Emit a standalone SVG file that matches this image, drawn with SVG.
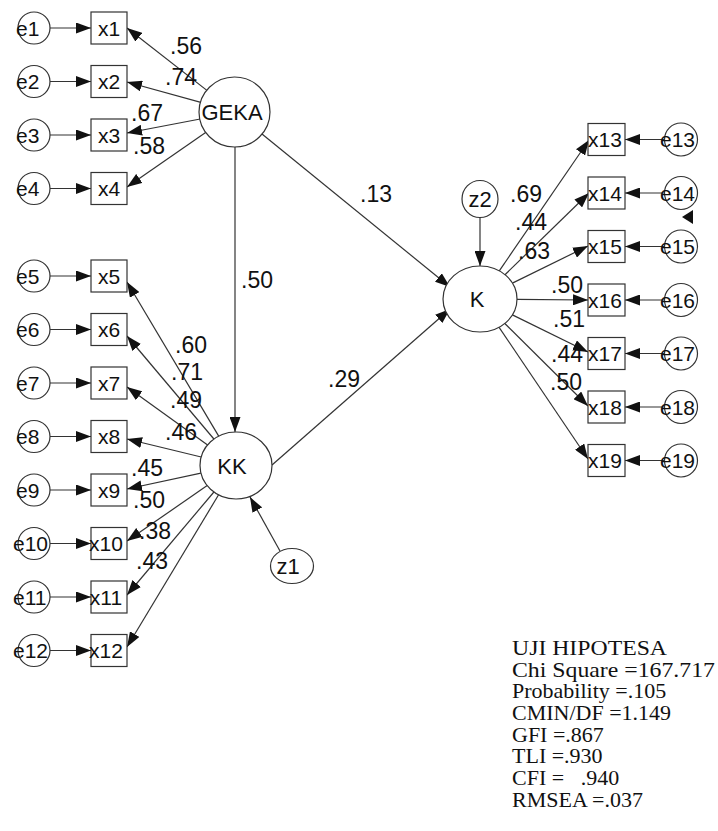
<svg xmlns="http://www.w3.org/2000/svg" width="718" height="831" viewBox="0 0 718 831">
<style>
  .sh { fill: #fff; stroke: #333; stroke-width: 1.2; }
  .ln { fill: none; stroke: #333; stroke-width: 1.2; marker-end: url(#ah); }
  .lab { font-family: "Liberation Sans", Arial, sans-serif; font-size: 21px; fill: #111; }
  .lat { font-family: "Liberation Sans", Arial, sans-serif; font-size: 22px; fill: #111; text-anchor: middle; }
  .bx { text-anchor: middle; }
  .co { font-family: "Liberation Sans", Arial, sans-serif; font-size: 23px; fill: #111; }
  .st { font-family: "Liberation Serif", "Times New Roman", serif; font-size: 22px; fill: #111; white-space: pre; }
</style>
<defs>
  <marker id="ah" markerUnits="userSpaceOnUse" markerWidth="15" markerHeight="11" refX="15" refY="5.5" orient="auto">
    <path d="M0,0 L15,5.5 L0,11 z" fill="#111"/>
  </marker>
</defs>
<rect width="718" height="831" fill="#fff"/>

<g id="connectors">
  <line class="ln" x1="50" y1="28" x2="91" y2="28"/>
  <line class="ln" x1="50" y1="81.5" x2="91" y2="81.5"/>
  <line class="ln" x1="50" y1="135" x2="91" y2="135"/>
  <line class="ln" x1="50" y1="188.5" x2="91" y2="188.5"/>
  <line class="ln" x1="50" y1="276" x2="91" y2="276"/>
  <line class="ln" x1="50" y1="329.5" x2="91" y2="329.5"/>
  <line class="ln" x1="50" y1="383" x2="91" y2="383"/>
  <line class="ln" x1="50" y1="436.5" x2="91" y2="436.5"/>
  <line class="ln" x1="50" y1="490" x2="91" y2="490"/>
  <line class="ln" x1="50" y1="543.5" x2="91" y2="543.5"/>
  <line class="ln" x1="50" y1="597" x2="91" y2="597"/>
  <line class="ln" x1="50" y1="650.5" x2="91" y2="650.5"/>
  <line class="ln" x1="664.5" y1="139.5" x2="625" y2="139.5"/>
  <line class="ln" x1="664.5" y1="193" x2="625" y2="193"/>
  <line class="ln" x1="664.5" y1="246.5" x2="625" y2="246.5"/>
  <line class="ln" x1="664.5" y1="300" x2="625" y2="300"/>
  <line class="ln" x1="664.5" y1="353.5" x2="625" y2="353.5"/>
  <line class="ln" x1="664.5" y1="407" x2="625" y2="407"/>
  <line class="ln" x1="664.5" y1="460.5" x2="625" y2="460.5"/>
  <line class="ln" x1="206.9" y1="90.4" x2="127" y2="28"/>
  <line class="ln" x1="200.8" y1="102.4" x2="127" y2="82"/>
  <line class="ln" x1="200.2" y1="119" x2="127" y2="133"/>
  <line class="ln" x1="206" y1="132.3" x2="127" y2="187"/>
  <line class="ln" x1="218.7" y1="436.1" x2="127" y2="282"/>
  <line class="ln" x1="213.9" y1="439" x2="127" y2="336"/>
  <line class="ln" x1="207.6" y1="444.9" x2="127" y2="387"/>
  <line class="ln" x1="201.2" y1="457" x2="127" y2="439"/>
  <line class="ln" x1="200.9" y1="473.1" x2="127" y2="489"/>
  <line class="ln" x1="207.2" y1="485.6" x2="127" y2="541"/>
  <line class="ln" x1="213.9" y1="492" x2="127" y2="595"/>
  <line class="ln" x1="218.6" y1="494.8" x2="127" y2="647"/>
  <line class="ln" x1="499.3" y1="270.8" x2="589" y2="140"/>
  <line class="ln" x1="505" y1="274.7" x2="589" y2="193"/>
  <line class="ln" x1="512.4" y1="283.1" x2="588" y2="246"/>
  <line class="ln" x1="517" y1="299.3" x2="588" y2="300"/>
  <line class="ln" x1="512.4" y1="314.9" x2="588" y2="352"/>
  <line class="ln" x1="504.8" y1="323.5" x2="588" y2="406"/>
  <line class="ln" x1="499.1" y1="327.3" x2="588" y2="459"/>
  <line class="ln" x1="235" y1="147" x2="235" y2="432"/>
  <line class="ln" x1="262" y1="134" x2="450" y2="287"/>
  <line class="ln" x1="272" y1="465" x2="450" y2="309"/>
  <line class="ln" x1="280" y1="551" x2="250" y2="497"/>
  <line class="ln" x1="480" y1="217" x2="480" y2="266"/>
  <polygon points="682,217 693,210 693,224" fill="#111"/>
</g>

<g id="GEKA"><ellipse class="sh" cx="234.5" cy="112" rx="35.5" ry="35"/><text class="lat" x="232" y="120">GEKA</text></g>
<g id="KK"><ellipse class="sh" cx="236" cy="465.5" rx="36" ry="33.5"/><text class="lat" x="232" y="474">KK</text></g>
<g id="K"><ellipse class="sh" cx="480" cy="299" rx="37" ry="33"/><text class="lat" x="477" y="307">K</text></g>
<g id="z1"><ellipse class="sh" cx="292" cy="566" rx="21.5" ry="17.5"/><text class="lat" x="288" y="574">z1</text></g>
<g id="z2"><ellipse class="sh" cx="480" cy="199" rx="18" ry="18.5"/><text class="lat" x="480" y="207">z2</text></g>

<g id="x1"><rect class="sh" x="91" y="12" width="36" height="32"/><text class="lab bx" x="109" y="35.5">x1</text></g>
<g id="x2"><rect class="sh" x="91" y="65.5" width="36" height="32"/><text class="lab bx" x="109" y="89">x2</text></g>
<g id="x3"><rect class="sh" x="91" y="119" width="36" height="32"/><text class="lab bx" x="109" y="142.5">x3</text></g>
<g id="x4"><rect class="sh" x="91" y="172.5" width="36" height="32"/><text class="lab bx" x="109" y="196">x4</text></g>
<g id="x5"><rect class="sh" x="91" y="260" width="36" height="32"/><text class="lab bx" x="109" y="283.5">x5</text></g>
<g id="x6"><rect class="sh" x="91" y="313.5" width="36" height="32"/><text class="lab bx" x="109" y="337">x6</text></g>
<g id="x7"><rect class="sh" x="91" y="367" width="36" height="32"/><text class="lab bx" x="109" y="390.5">x7</text></g>
<g id="x8"><rect class="sh" x="91" y="420.5" width="36" height="32"/><text class="lab bx" x="109" y="444">x8</text></g>
<g id="x9"><rect class="sh" x="91" y="474" width="36" height="32"/><text class="lab bx" x="109" y="497.5">x9</text></g>
<g id="x10"><rect class="sh" x="91" y="527.5" width="36" height="32"/><text class="lab bx" x="106" y="551">x10</text></g>
<g id="x11"><rect class="sh" x="91" y="581" width="36" height="32"/><text class="lab bx" x="106" y="604.5">x11</text></g>
<g id="x12"><rect class="sh" x="91" y="634.5" width="36" height="32"/><text class="lab bx" x="106" y="658">x12</text></g>

<g id="x13"><rect class="sh" x="588" y="123.5" width="37" height="32"/><text class="lab bx" x="605" y="147">x13</text></g>
<g id="x14"><rect class="sh" x="588" y="177" width="37" height="32"/><text class="lab bx" x="605" y="200.5">x14</text></g>
<g id="x15"><rect class="sh" x="588" y="230.5" width="37" height="32"/><text class="lab bx" x="605" y="254">x15</text></g>
<g id="x16"><rect class="sh" x="588" y="284" width="37" height="32"/><text class="lab bx" x="605" y="307.5">x16</text></g>
<g id="x17"><rect class="sh" x="588" y="337.5" width="37" height="32"/><text class="lab bx" x="605" y="361">x17</text></g>
<g id="x18"><rect class="sh" x="588" y="391" width="37" height="32"/><text class="lab bx" x="605" y="414.5">x18</text></g>
<g id="x19"><rect class="sh" x="588" y="444.5" width="37" height="32"/><text class="lab bx" x="605" y="468">x19</text></g>

<g id="e1"><circle class="sh" cx="34" cy="28" r="16"/><text class="lab" x="16" y="35.5">e1</text></g>
<g id="e2"><circle class="sh" cx="34" cy="81.5" r="16"/><text class="lab" x="16" y="89">e2</text></g>
<g id="e3"><circle class="sh" cx="34" cy="135" r="16"/><text class="lab" x="16" y="142.5">e3</text></g>
<g id="e4"><circle class="sh" cx="34" cy="188.5" r="16"/><text class="lab" x="16" y="196">e4</text></g>
<g id="e5"><circle class="sh" cx="34" cy="276" r="16"/><text class="lab" x="16" y="283.5">e5</text></g>
<g id="e6"><circle class="sh" cx="34" cy="329.5" r="16"/><text class="lab" x="16" y="337">e6</text></g>
<g id="e7"><circle class="sh" cx="34" cy="383" r="16"/><text class="lab" x="16" y="390.5">e7</text></g>
<g id="e8"><circle class="sh" cx="34" cy="436.5" r="16"/><text class="lab" x="16" y="444">e8</text></g>
<g id="e9"><circle class="sh" cx="34" cy="490" r="16"/><text class="lab" x="16" y="497.5">e9</text></g>
<g id="e10"><circle class="sh" cx="34" cy="543.5" r="16"/><text class="lab" x="13" y="551">e10</text></g>
<g id="e11"><circle class="sh" cx="34" cy="597" r="16"/><text class="lab" x="13" y="604.5">e11</text></g>
<g id="e12"><circle class="sh" cx="34" cy="650.5" r="16"/><text class="lab" x="13" y="658">e12</text></g>

<g id="e13"><circle class="sh" cx="681" cy="139.5" r="16.5"/><text class="lab" x="660" y="147">e13</text></g>
<g id="e14"><circle class="sh" cx="681" cy="193" r="16.5"/><text class="lab" x="660" y="200.5">e14</text></g>
<g id="e15"><circle class="sh" cx="681" cy="246.5" r="16.5"/><text class="lab" x="660" y="254">e15</text></g>
<g id="e16"><circle class="sh" cx="681" cy="300" r="16.5"/><text class="lab" x="660" y="307.5">e16</text></g>
<g id="e17"><circle class="sh" cx="681" cy="353.5" r="16.5"/><text class="lab" x="660" y="361">e17</text></g>
<g id="e18"><circle class="sh" cx="681" cy="407" r="16.5"/><text class="lab" x="660" y="414.5">e18</text></g>
<g id="e19"><circle class="sh" cx="681" cy="460.5" r="16.5"/><text class="lab" x="660" y="468">e19</text></g>

<g id="coefficients">
  <text class="co" x="170" y="54">.56</text>
  <text class="co" x="165" y="85">.74</text>
  <text class="co" x="131" y="121">.67</text>
  <text class="co" x="133" y="154">.58</text>
  <text class="co" x="175" y="353">.60</text>
  <text class="co" x="171" y="380">.71</text>
  <text class="co" x="170" y="408">.49</text>
  <text class="co" x="165" y="440">.46</text>
  <text class="co" x="131" y="476">.45</text>
  <text class="co" x="133" y="508">.50</text>
  <text class="co" x="139" y="539">.38</text>
  <text class="co" x="136" y="569">.43</text>
  <text class="co" x="510" y="202">.69</text>
  <text class="co" x="515" y="230">.44</text>
  <text class="co" x="518" y="259">.63</text>
  <text class="co" x="551" y="293">.50</text>
  <text class="co" x="553" y="327">.51</text>
  <text class="co" x="551" y="362">.44</text>
  <text class="co" x="550" y="390">.50</text>
  <text class="co" x="360" y="202">.13</text>
  <text class="co" x="241" y="288">.50</text>
  <text class="co" x="328" y="387">.29</text>
</g>

<g id="fit">
  <text class="st" x="512" y="655" textLength="155" lengthAdjust="spacingAndGlyphs">UJI HIPOTESA</text>
  <text class="st" x="512" y="677" textLength="203" lengthAdjust="spacingAndGlyphs">Chi Square =167.717</text>
  <text class="st" x="512" y="698">Probability =.105</text>
  <text class="st" x="512" y="720">CMIN/DF =1.149</text>
  <text class="st" x="512" y="742">GFI =.867</text>
  <text class="st" x="512" y="763">TLI =.930</text>
  <text class="st" x="512" y="785">CFI =   .940</text>
  <text class="st" x="512" y="807">RMSEA =.037</text>
</g>
</svg>
